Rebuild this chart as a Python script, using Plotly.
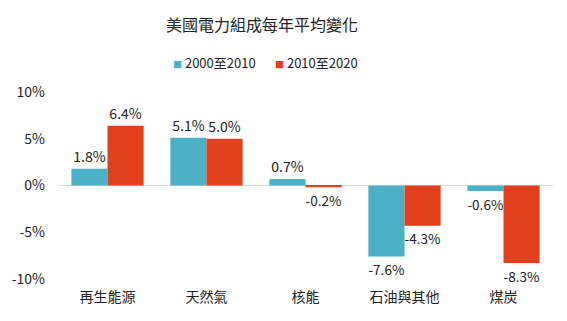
import plotly.graph_objects as go

categories = ["再生能源", "天然氣", "核能", "石油與其他", "煤炭"]
s2000_2010 = [1.8, 5.1, 0.7, -7.6, -0.6]
s2010_2020 = [6.4, 5.0, -0.2, -4.3, -8.3]
series_names = ["2000至2010", "2010至2020"]
tick_vals = [10, 5, 0, -5, -10]
tick_text = ["10%", "5%", "0%", "-5%", "-10%"]

font_family = "Noto Sans CJK TC, Noto Sans, sans-serif"
colors = ["#4BB1C7", "#E2401C"]

fig = go.Figure()
for name, vals, c in zip(series_names, [s2000_2010, s2010_2020], colors):
    fig.add_trace(go.Bar(
        x=categories, y=vals, name=name, marker=dict(color=c, line=dict(width=0)),
        text=[f"{v:.1f}%" for v in vals], textposition="outside",
        textfont=dict(size=14, color="#222"), cliponaxis=False, showlegend=False,
    ))

# compact legend drawn as text
legend_x = [0.228, 0.434]
for name, c, lx in zip(series_names, colors, legend_x):
    fig.add_annotation(
        xref="paper", yref="paper", x=lx, y=1.16, xanchor="left", yanchor="middle",
        text=f"<span style='color:{c};font-size:9px'>■</span> {name}",
        showarrow=False, font=dict(size=13, color="#222"),
    )

fig.update_layout(
    width=567, height=321,
    margin=dict(l=58, r=14, t=92, b=42),
    paper_bgcolor="white", plot_bgcolor="white",
    barmode="group", bargap=0.27, bargroupgap=0,
    font=dict(family=font_family, size=14, color="#222"),
    title=dict(text="美國電力組成每年平均變化", x=0.462, xanchor="center", y=0.922, yanchor="middle",
               font=dict(size=16, color="#222")),
    showlegend=False,
)
fig.update_xaxes(showline=False, showgrid=False, ticks="", tickfont=dict(size=14),
                 ticklabelstandoff=8)
fig.update_yaxes(range=[-10, 10], tickvals=tick_vals, ticktext=tick_text, showgrid=False,
                 zeroline=True, zerolinecolor="#D9D9D9", zerolinewidth=1,
                 showline=False, tickfont=dict(size=14), ticks="", ticklabelstandoff=12)

fig.write_html("out.html")
